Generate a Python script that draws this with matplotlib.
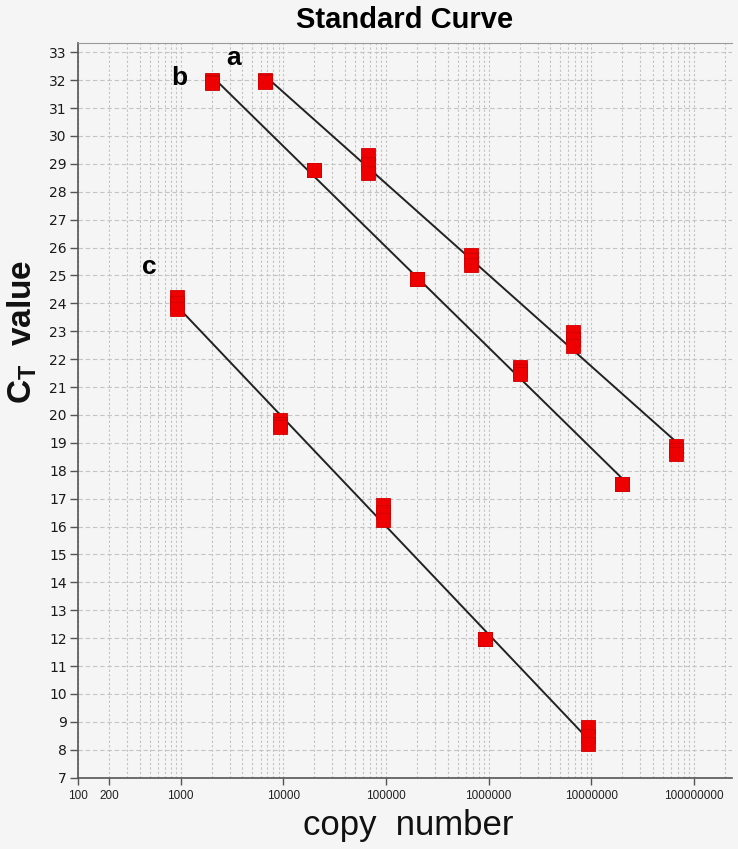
import numpy as np
import matplotlib
matplotlib.use("Agg")
import matplotlib.pyplot as plt
from matplotlib.ticker import FixedLocator, NullFormatter

plt.rcParams['font.family'] = ['Liberation Sans', 'DejaVu Sans']
plt.rcParams['mathtext.fontset'] = 'custom'
plt.rcParams['mathtext.bf'] = 'Liberation Sans:bold'
plt.rcParams['mathtext.rm'] = 'Liberation Sans'

# copy numbers of each dilution series
copies_a = [6.7e3, 6.7e4, 6.7e5, 6.7e6, 6.7e7]
copies_b = [2.0e3, 2.0e4, 2.0e5, 2.0e6, 2.0e7]
copies_c = [9.3e2, 9.3e3, 9.3e4, 9.3e5, 9.3e6]

# Ct values, three replicates per dilution
ct_a_rep1 = [32.00, 29.30, 25.75, 22.96, 18.87]
ct_a_rep2 = [31.97, 28.98, 25.56, 22.71, 18.73]
ct_a_rep3 = [31.94, 28.66, 25.36, 22.46, 18.59]
ct_b_rep1 = [32.02, 28.78, 24.86, 21.73, 17.51]
ct_b_rep2 = [31.95, 28.78, 24.86, 21.59, 17.51]
ct_b_rep3 = [31.88, 28.78, 24.86, 21.45, 17.51]
ct_c_rep1 = [24.21, 19.81, 16.79, 11.97, 8.80]
ct_c_rep2 = [24.01, 19.68, 16.52, 11.97, 8.49]
ct_c_rep3 = [23.81, 19.56, 16.25, 11.97, 8.19]

series_names = ['a', 'b', 'c']

y_ticks = list(range(7, 34))
x_ticks = [100, 200, 1000, 10000, 100000, 1000000, 10000000, 100000000]
x_tick_labels = ['100', '200', '1000', '10000', '100000', '1000000', '10000000', '100000000']

bg = '#f4f5f4'
fig = plt.figure(figsize=(7.38, 8.49), dpi=100, facecolor=bg)
W, H = 738, 849
ax = fig.add_axes([78 / W, (H - 777.7) / H, (731.7 - 78) / W, (777.7 - 43) / H])
ax.set_facecolor(bg)

ax.set_xscale('log')
ax.set_xlim(100, 10 ** 8.368)
ax.set_ylim(7, 33.33)

# grid
ax.set_yticks(y_ticks)
ax.yaxis.grid(True, color='#c4c4c4', linestyle=(0, (4, 2.5)), linewidth=0.8)
minor_x = [m * 10 ** e for e in range(2, 9) for m in range(2, 10)]
ax.xaxis.set_minor_locator(FixedLocator(minor_x))
ax.xaxis.set_minor_formatter(NullFormatter())
ax.xaxis.grid(True, which='both', color='#c2c2c2', linestyle=(0, (2, 2)), linewidth=0.8)
ax.set_axisbelow(True)
ax.tick_params(axis='x', which='minor', length=0)

ax.xaxis.set_major_locator(FixedLocator(x_ticks))
ax.set_xticklabels(x_tick_labels)
ax.tick_params(axis='x', which='major', length=5, width=1, color='#555555',
               labelsize=8.5, pad=4, labelcolor='#222222')
ax.tick_params(axis='y', length=6, width=1, color='#555555', pad=2,
               labelcolor='#1a1a1a')
for lbl in ax.get_yticklabels():
    lbl.set_family('DejaVu Sans')
    lbl.set_fontsize(10)

ax.spines['right'].set_visible(False)
ax.spines['top'].set_color('#9a9a9a')
ax.spines['left'].set_color('#555555')
ax.spines['bottom'].set_color('#555555')
ax.spines['left'].set_linewidth(1.2)
ax.spines['bottom'].set_linewidth(1.2)

data = [(copies_a, ct_a_rep1, ct_a_rep2, ct_a_rep3),
        (copies_b, ct_b_rep1, ct_b_rep2, ct_b_rep3),
        (copies_c, ct_c_rep1, ct_c_rep2, ct_c_rep3)]

for copies, r1, r2, r3 in data:
    xs = np.array(copies * 3)
    ys = np.array(r1 + r2 + r3)
    # standard curve: linear fit of Ct against log10(copies)
    slope, icpt = np.polyfit(np.log10(xs), ys, 1)
    lx = np.array([copies[0], copies[-1]])
    ax.plot(lx, slope * np.log10(lx) + icpt, color='#222222', lw=1.4, zorder=3)
    ax.plot(xs, ys, 's', color='#ee0000', markeredgecolor='#d00000',
            markeredgewidth=0.6, markersize=10.3, zorder=4, linestyle='none')

# series letters
label_pos = {'a': (3.29e3, 32.8), 'b': (9.8e2, 32.08), 'c': (5.0e2, 25.3)}
for name in series_names:
    x, y = label_pos[name]
    ax.text(x, y, name, fontsize=19, fontweight='bold', ha='center',
            va='center', color='black', clip_on=False)

ax.set_title('Standard Curve', fontsize=21, fontweight='bold', pad=11)
fig.text(408 / W, 1 - 826 / H, 'copy  number', fontsize=25, ha='center',
         va='center', color='#111111')
fig.text(22 / W, 1 - 332 / H, r'$\mathbf{C_T}$  value', fontsize=24,
         fontweight='bold', rotation=90, ha='center', va='center',
         color='#111111')

fig.savefig('out.png', dpi=100, facecolor=bg)
